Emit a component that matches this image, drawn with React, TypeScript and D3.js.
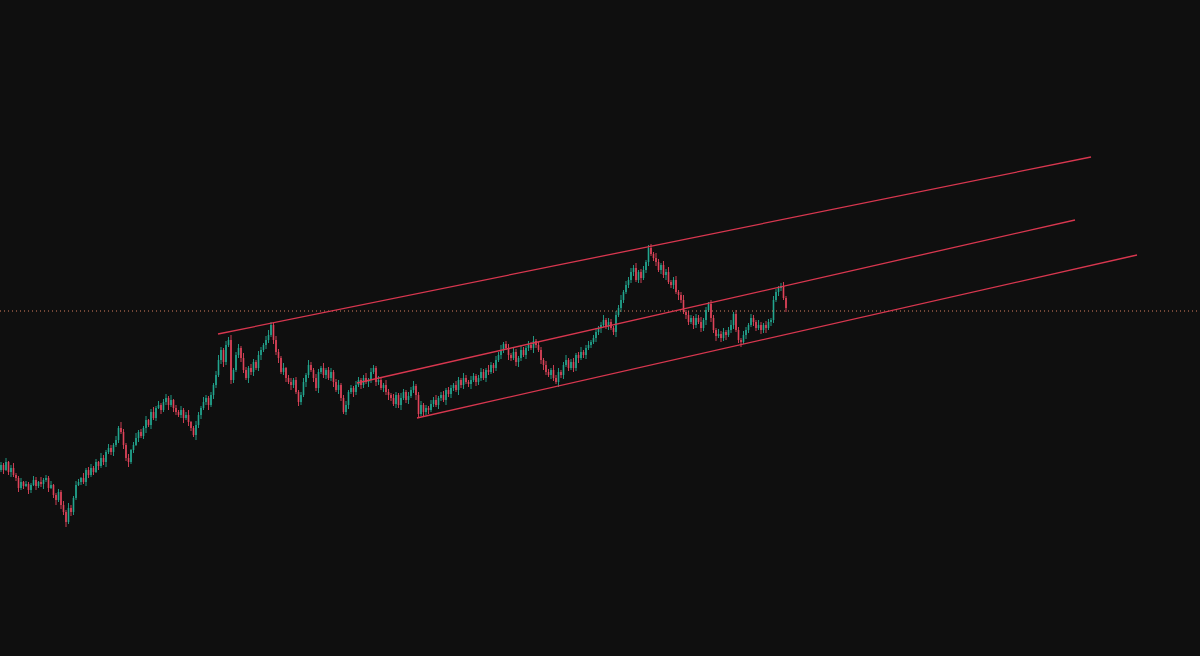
import * as d3 from 'd3'
import { useEffect, useRef } from 'react'

// daily closes, oldest first (open = previous close)
const closes = [
  33.5, 33.0, 33.8, 32.8, 33.2, 32.5, 32.2, 31.2, 31.8, 31.4, 31.6, 31.0,
  31.5, 32.0, 31.4, 31.8, 31.6, 32.0, 32.2, 31.2, 31.5, 30.5, 30.0, 30.8,
  29.5, 28.8, 27.8, 29.2, 28.8, 30.2, 31.5, 31.8, 32.2, 31.8, 33.0, 32.5,
  33.2, 32.8, 33.8, 33.4, 34.2, 33.8, 34.8, 35.2, 34.8, 35.5, 36.0, 37.2,
  36.8, 35.5, 34.2, 33.8, 35.0, 35.5, 36.2, 36.8, 36.4, 37.2, 38.0, 37.5,
  38.8, 38.2, 39.2, 39.5, 39.0, 39.8, 40.2, 39.5, 40.0, 39.2, 38.8, 38.5,
  39.0, 38.2, 38.5, 37.8, 37.2, 36.5, 37.5, 38.5, 39.2, 39.8, 40.2, 39.5,
  40.5, 41.5, 42.5, 44.0, 45.0, 43.8, 45.5, 46.0, 42.0, 43.0, 44.5, 45.2,
  44.2, 43.0, 42.2, 43.2, 42.8, 43.8, 43.2, 44.5, 45.0, 45.5, 46.0, 46.5,
  47.5, 46.0, 44.8, 44.2, 42.8, 43.2, 42.2, 41.8, 41.5, 42.0, 40.8, 39.8,
  40.5, 41.8, 42.5, 43.5, 43.0, 42.2, 41.2, 42.8, 43.2, 42.5, 43.0, 42.2,
  42.8, 41.8, 41.0, 41.5, 40.2, 38.8, 39.5, 40.8, 41.2, 40.8, 41.5, 42.0,
  41.5, 42.2, 41.8, 42.0, 42.8, 43.2, 41.8, 42.0, 41.2, 41.5, 40.8, 40.5,
  40.2, 39.6, 40.5, 39.5, 40.2, 40.8, 40.0, 40.4, 41.0, 41.4, 40.5, 38.6,
  39.5, 38.8, 39.2, 39.0, 39.6, 40.0, 39.5, 40.2, 40.5, 40.0, 41.0, 40.6,
  41.2, 41.5, 41.0, 42.0, 41.5, 42.2, 41.8, 41.6, 42.0, 42.4, 41.8, 42.2,
  42.8, 42.2, 43.0, 42.8, 43.5, 43.2, 44.0, 44.5, 45.0, 45.6, 45.2, 44.5,
  44.2, 44.8, 43.8, 44.2, 45.0, 44.5, 45.2, 45.5, 45.2, 45.9, 45.5, 45.0,
  44.0, 43.5, 42.8, 42.5, 43.0, 42.2, 41.8, 42.8, 42.5, 43.5, 44.0, 43.2,
  43.8, 43.2, 44.5, 44.2, 44.8, 44.5, 45.2, 45.5, 45.8, 46.2, 46.8, 47.2,
  47.5, 48.0, 47.4, 47.8, 47.2, 46.8, 48.5, 49.2, 50.0, 50.8, 51.5, 52.0,
  52.8, 53.2, 52.0, 52.8, 52.2, 53.0, 53.8, 55.2, 54.6, 54.2, 53.8, 53.0,
  53.5, 52.5, 52.8, 51.8, 51.5, 52.0, 50.8, 50.5, 50.0, 48.8, 48.5, 47.8,
  48.2, 47.5, 48.2, 47.8, 47.2, 48.0, 49.0, 49.6, 48.2, 47.0, 46.4, 46.6,
  46.2, 46.8, 46.5, 47.0, 47.5, 48.6, 47.0, 46.0, 45.8, 46.5, 47.0, 47.5,
  48.2, 47.8, 47.2, 47.5, 47.0, 47.5, 47.2, 47.8, 48.0, 50.0, 50.8, 51.2,
  51.4, 50.2, 49.2,
]
const firstOpen = 33.0

// upper / lower wick lengths, tenths of a point
const wickHi = [
  3, 2, 4, 1, 3, 5, 2, 2, 4, 1, 3, 2, 2, 4, 3, 1, 5, 2, 3, 2, 4, 1, 2, 3,
  2, 4, 2, 5, 3, 2, 4, 3, 1, 5, 2, 3, 4, 2, 3, 1, 5, 3, 2, 4, 3, 2, 4, 2,
  6, 3, 2, 4, 1, 3, 5, 2, 3, 2, 4, 1, 3, 5, 2, 4, 2, 3, 4, 2, 5, 1, 3, 2,
  4, 2, 3, 5, 1, 2, 4, 3, 2, 5, 3, 2, 3, 2, 4, 5, 3, 2, 4, 3, 5, 2, 3, 4,
  2, 5, 3, 2, 4, 3, 2, 4, 3, 2, 4, 5, 3, 2, 4, 3, 2, 5, 1, 3, 4, 2, 3, 2,
  3, 4, 2, 5, 3, 2, 4, 3, 2, 5, 2, 3, 4, 2, 3, 5, 2, 3, 4, 2, 3, 2, 4, 3,
  2, 3, 5, 2, 4, 3, 2, 4, 3, 2, 5, 3, 2, 4, 3, 2, 5, 3, 2, 4, 3, 5, 2, 3,
  4, 2, 3, 2, 4, 3, 5, 2, 3, 4, 2, 3, 3, 2, 4, 3, 2, 5, 3, 2, 4, 3, 2, 3,
  4, 3, 2, 5, 3, 2, 4, 3, 5, 2, 3, 4, 2, 4, 3, 2, 5, 3, 2, 4, 3, 5, 2, 3,
  3, 2, 4, 3, 2, 5, 3, 4, 2, 3, 5, 2, 3, 4, 2, 3, 5, 2, 3, 4, 2, 3, 4, 2,
  3, 5, 2, 4, 3, 2, 4, 3, 5, 2, 4, 3, 4, 3, 5, 2, 3, 4, 2, 3, 4, 2, 5, 3,
  2, 4, 3, 5, 2, 3, 4, 2, 3, 5, 2, 4, 3, 2, 4, 3, 5, 2, 3, 2, 4, 3, 2, 5,
  3, 4, 2, 3, 5, 2, 4, 3, 2, 4, 3, 2, 4, 3, 2, 5, 3, 2, 4, 3, 2, 4, 3, 2,
  3, 4, 2,
]
const wickLo = [
  2, 4, 1, 3, 5, 2, 3, 4, 2, 3, 1, 4, 3, 1, 4, 2, 3, 5, 2, 4, 1, 3, 5, 2,
  4, 3, 5, 2, 4, 3, 2, 1, 3, 2, 4, 3, 2, 3, 1, 4, 2, 3, 5, 2, 3, 4, 2, 3,
  2, 4, 3, 5, 2, 3, 1, 4, 2, 3, 5, 2, 4, 2, 3, 1, 4, 2, 3, 5, 2, 4, 3, 2,
  3, 5, 2, 4, 3, 2, 5, 3, 4, 2, 3, 5, 2, 4, 3, 2, 4, 5, 3, 2, 4, 3, 2, 3,
  4, 3, 2, 5, 3, 4, 2, 3, 5, 2, 4, 3, 2, 4, 3, 5, 2, 3, 4, 2, 5, 3, 2, 4,
  3, 2, 5, 3, 2, 4, 3, 5, 2, 3, 4, 2, 3, 5, 2, 4, 3, 2, 3, 4, 2, 5, 3, 2,
  4, 3, 2, 5, 3, 2, 4, 3, 2, 4, 3, 5, 3, 2, 4, 3, 5, 2, 3, 4, 2, 3, 5, 4,
  2, 5, 3, 4, 2, 3, 2, 4, 3, 2, 5, 3, 4, 3, 2, 5, 3, 4, 2, 3, 5, 2, 4, 3,
  3, 2, 4, 3, 2, 5, 3, 2, 4, 3, 2, 5, 3, 2, 4, 5, 3, 2, 4, 3, 2, 5, 3, 2,
  4, 5, 3, 2, 4, 3, 2, 5, 3, 4, 2, 3, 2, 4, 3, 5, 2, 3, 4, 2, 3, 2, 4, 3,
  5, 2, 3, 4, 2, 3, 5, 2, 4, 3, 2, 3, 3, 4, 2, 3, 5, 2, 3, 4, 2, 3, 4, 2,
  4, 3, 5, 2, 3, 4, 2, 5, 3, 2, 4, 3, 2, 4, 3, 2, 4, 3, 5, 2, 4, 3, 5, 2,
  4, 3, 5, 2, 3, 4, 2, 3, 5, 2, 4, 3, 2, 4, 3, 2, 4, 3, 5, 2, 4, 3, 2, 4,
  3, 2, 4,
]

// channel drawings: [barIndex, price] endpoints
const upperLine = [[86.8, 46.6], [436, 64.3]]
const middleLine = [[142.4, 41.7], [429.6, 58.0]]
const lowerLine = [[166.4, 38.2], [454.4, 54.5]]
const lastPriceLevel = 48.9

const visibleBars = 479.6
const priceRange = [14.4, 80]

const App = () => {
  const ref = useRef<SVGSVGElement>(null)

  useEffect(() => {
    document.body.style.margin = '0'
    const width = 1200
    const height = 656

    const svg = d3.select(ref.current)
    svg.selectAll('*').remove()

    const x = d3.scaleLinear().domain([-0.4, visibleBars]).range([0, width])
    const y = d3.scaleLinear().domain(priceRange).range([height, 0])

    svg
      .append('rect')
      .attr('width', width)
      .attr('height', height)
      .attr('fill', '#0f0f0f')

    const bars = closes.map(function (c, i) {
      const o = i === 0 ? firstOpen : closes[i - 1]
      const h = Math.max(o, c) + wickHi[i] / 10
      const l = Math.min(o, c) - wickLo[i] / 10
      return { i, o, c, h, l }
    })

    const color = (d: { o: number; c: number }) =>
      d.c >= d.o ? '#22a68f' : '#e0445a'

    const g = svg.append('g')

    g.selectAll('line.wick')
      .data(bars)
      .enter()
      .append('line')
      .attr('class', 'wick')
      .attr('x1', (d) => x(d.i))
      .attr('x2', (d) => x(d.i))
      .attr('y1', (d) => y(d.h))
      .attr('y2', (d) => y(d.l))
      .attr('stroke', color)
      .attr('stroke-width', 0.9)

    g.selectAll('rect.body')
      .data(bars)
      .enter()
      .append('rect')
      .attr('class', 'body')
      .attr('x', (d) => x(d.i) - 0.8)
      .attr('width', 1.6)
      .attr('y', (d) => y(Math.max(d.o, d.c)))
      .attr('height', (d) => Math.max(1, Math.abs(y(d.o) - y(d.c))))
      .attr('fill', color)

    // last price dotted level
    svg
      .append('line')
      .attr('x1', 0)
      .attr('x2', width)
      .attr('y1', y(lastPriceLevel))
      .attr('y2', y(lastPriceLevel))
      .attr('stroke', '#d98060')
      .attr('stroke-width', 1)
      .attr('stroke-dasharray', '1 3')

    const line = d3
      .line<number[]>()
      .x((d) => x(d[0]))
      .y((d) => y(d[1]))

    svg
      .append('g')
      .selectAll('path')
      .data([upperLine, middleLine, lowerLine])
      .enter()
      .append('path')
      .attr('d', (d) => line(d))
      .attr('fill', 'none')
      .attr('stroke', '#d8374f')
      .attr('stroke-width', 1.3)
  }, [])

  return <svg ref={ref} width={1200} height={656} style={{ display: 'block' }} />
}

export default App
